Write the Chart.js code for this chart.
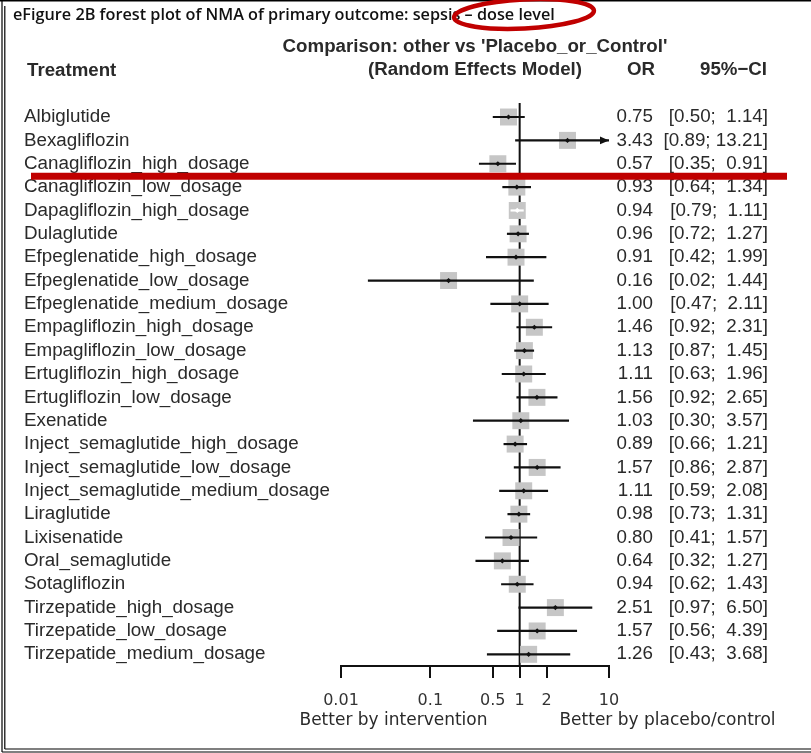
<!DOCTYPE html>
<html>
<head>
<meta charset="utf-8">
<script src="https://cdn.jsdelivr.net/npm/chart.js@4/dist/chart.umd.min.js"></script>
<style>
html,body{margin:0;padding:0;background:#fff;}
#wrap{width:811px;height:753px;position:relative;}
</style>
</head>
<body>
<div id="wrap"><canvas id="c" width="811" height="753"></canvas></div>
<script>
// ---------- DATA ----------
const treatments = [
  'Albiglutide','Bexagliflozin','Canagliflozin_high_dosage','Canagliflozin_low_dosage',
  'Dapagliflozin_high_dosage','Dulaglutide','Efpeglenatide_high_dosage','Efpeglenatide_low_dosage',
  'Efpeglenatide_medium_dosage','Empagliflozin_high_dosage','Empagliflozin_low_dosage',
  'Ertugliflozin_high_dosage','Ertugliflozin_low_dosage','Exenatide',
  'Inject_semaglutide_high_dosage','Inject_semaglutide_low_dosage','Inject_semaglutide_medium_dosage',
  'Liraglutide','Lixisenatide','Oral_semaglutide','Sotagliflozin',
  'Tirzepatide_high_dosage','Tirzepatide_low_dosage','Tirzepatide_medium_dosage'
];
const orValues = [0.75,3.43,0.57,0.93,0.94,0.96,0.91,0.16,1.00,1.46,1.13,1.11,1.56,1.03,0.89,1.57,1.11,0.98,0.80,0.64,0.94,2.51,1.57,1.26];
const ciLower  = [0.50,0.89,0.35,0.64,0.79,0.72,0.42,0.02,0.47,0.92,0.87,0.63,0.92,0.30,0.66,0.86,0.59,0.73,0.41,0.32,0.62,0.97,0.56,0.43];
const ciUpper  = [1.14,13.21,0.91,1.34,1.11,1.27,1.99,1.44,2.11,2.31,1.45,1.96,2.65,3.57,1.21,2.87,2.08,1.31,1.57,1.27,1.43,6.50,4.39,3.68];
const tickValues = [0.01,0.1,0.5,1,2,10];
const tickLabels = ['0.01','0.1','0.5','1','2','10'];
const refValue = 1;
const titleText = 'eFigure 2B forest plot of NMA of primary outcome: sepsis \u2013 dose level';
const headerComparison = "Comparison: other vs 'Placebo_or_Control'";
const headerModel = '(Random Effects Model)';
const headerTreatment = 'Treatment';
const headerOR = 'OR';
const headerCI = '95%\u2212CI';
const leftLabel = 'Better by intervention';
const rightLabel = 'Better by placebo/control';

// ---------- STYLE ----------
const SQ_RADIUS = 12;          // rect point radius -> ~17px square
const TEXT = '#2a2a2a';
const BODY_FONT = '18.8px "Liberation Sans", Arial, sans-serif';
const BOLD_FONT = 'bold 18.7px "Liberation Sans", Arial, sans-serif';
const RED = '#c00000';

const fmt2 = v => v.toFixed(2);

// build datasets from arrays
const squareData = orValues.map((v,i)=>({x:v,y:i}));
const ciData = [];
ciLower.forEach((lo,i)=>{
  ciData.push({x:lo,y:i});
  ciData.push({x:ciUpper[i],y:i});
  ciData.push({x:null,y:null});
});

function isInside(row, xScale){
  const half = SQ_RADIUS*Math.SQRT1_2;
  const c = xScale.getPixelForValue(orValues[row]);
  return xScale.getPixelForValue(ciLower[row]) >= c-half && xScale.getPixelForValue(ciUpper[row]) <= c+half;
}

const textPlugin = {
  id:'forestText',
  beforeDraw(chart){
    const ctx = chart.ctx;
    ctx.save();
    ctx.fillStyle = '#fff';
    ctx.fillRect(0,0,chart.width,chart.height);
    ctx.restore();
  },
  afterDraw(chart){
    const ctx = chart.ctx;
    const xs = chart.scales.x, ys = chart.scales.y;
    ctx.save();
    // frame
    ctx.strokeStyle = '#000';
    ctx.lineWidth = 1.5;
    ctx.beginPath(); ctx.moveTo(0,0.75); ctx.lineTo(811,0.75); ctx.stroke();
    ctx.lineWidth = 1.2;
    ctx.beginPath(); ctx.moveTo(2,0); ctx.lineTo(2,752); ctx.stroke();
    ctx.beginPath(); ctx.moveTo(4.8,6); ctx.lineTo(4.8,749); ctx.stroke();
    ctx.beginPath(); ctx.moveTo(2,752); ctx.lineTo(811,752); ctx.stroke();
    ctx.beginPath(); ctx.moveTo(4.8,749); ctx.lineTo(811,749); ctx.stroke();

    // title (auto-fit width)
    ctx.fillStyle = '#111';
    ctx.textBaseline = 'middle';
    ctx.textAlign = 'left';
    ctx.font = '600 15px "Open Sans", Lato, sans-serif';
    let w = ctx.measureText(titleText).width;
    let fs = 15*542/w;
    ctx.font = '600 '+fs.toFixed(2)+'px "Open Sans", Lato, sans-serif';
    ctx.fillText(titleText, 13, 15);

    // headers
    ctx.fillStyle = TEXT;
    ctx.font = BOLD_FONT;
    ctx.textAlign = 'center';
    const cx = (xs.left + xs.right)/2;
    ctx.fillText(headerComparison, cx, 47);
    ctx.fillText(headerModel, cx, 70);
    ctx.textAlign = 'left';
    ctx.fillText(headerTreatment, 27, 71);
    ctx.textAlign = 'right';
    ctx.fillText(headerOR, 655, 70);
    ctx.fillText(headerCI, 767, 70);

    // rows
    ctx.font = BODY_FONT;
    treatments.forEach((t,i)=>{
      const y = ys.getPixelForValue(i);
      ctx.textAlign = 'left';
      ctx.fillText(t, 24, y);
      ctx.textAlign = 'right';
      ctx.fillText(fmt2(orValues[i]), 653, y);
      const ci = '[' + fmt2(ciLower[i]) + '; ' + fmt2(ciUpper[i]).padStart(5,' ') + ']';
      ctx.fillText(ci, 768, y);
      // arrow where CI exceeds axis
      if (ciUpper[i] > xs.max){
        const xr = xs.right;
        ctx.fillStyle = '#111';
        ctx.beginPath();
        ctx.moveTo(xr, y);
        ctx.lineTo(xr-9, y-3.8);
        ctx.lineTo(xr-9, y+3.8);
        ctx.closePath();
        ctx.fill();
        ctx.fillStyle = TEXT;
      }
    });

    // bottom labels
    ctx.font = '17px "DejaVu Sans", sans-serif';
    ctx.textAlign = 'center';
    ctx.fillText(leftLabel, 393.5, 721);
    ctx.fillText(rightLabel, 667.5, 721);

    // red annotations
    ctx.strokeStyle = RED;
    ctx.lineWidth = 4.5;
    ctx.beginPath();
    ctx.ellipse(524, 14, 70, 14.5, -0.05, 0, Math.PI*2);
    ctx.stroke();
    ctx.lineWidth = 7;
    ctx.beginPath();
    ctx.moveTo(31, 176.3);
    ctx.lineTo(787, 176.3);
    ctx.stroke();
    ctx.restore();
  }
};

new Chart(document.getElementById('c'), {
  type:'scatter',
  data:{
    datasets:[
      { // reference line at OR = 1
        type:'line',
        data:[{x:refValue,y:-0.6},{x:refValue,y:23.5}],
        borderColor:'#111', borderWidth:2, pointRadius:0, order:4, clip:false
      },
      { // squares
        data:squareData,
        pointStyle:'rect', pointRadius:SQ_RADIUS, backgroundColor:'#c6c6c6',
        borderWidth:0, order:3
      },
      { // CI lines
        type:'line',
        data:ciData,
        spanGaps:false,
        borderColor:'#111', borderWidth:2.2, pointRadius:0, order:2,
        segment:{
          borderColor:(c)=>{
            const row = Math.floor(c.p0DataIndex/3);
            const lo = ciLower[row], hi = ciUpper[row], est = orValues[row];
            const ppd = (c.p1.x - c.p0.x)/Math.log10(hi/lo);
            const sq = c.p0.x + Math.log10(est/lo)*ppd;
            const half = SQ_RADIUS*Math.SQRT1_2;
            return (c.p0.x >= sq-half && c.p1.x <= sq+half) ? '#ffffff' : '#111';
          }
        }
      },
      { // centre dots
        data:squareData,
        pointStyle:'rectRot', pointRadius:2.6, borderWidth:0,
        backgroundColor:(c)=> (c.dataIndex!==undefined && c.chart.scales.x && isInside(c.dataIndex, c.chart.scales.x)) ? '#ffffff' : '#111',
        order:1
      }
    ]
  },
  options:{
    responsive:false,
    animation:false,
    devicePixelRatio:1,
    events:[],
    layout:{padding:{left:341,right:202,top:103,bottom:0}},
    plugins:{legend:{display:false},tooltip:{enabled:false}},
    scales:{
      x:{
        type:'logarithmic', min:0.01, max:10, offset:false,
        afterBuildTicks:(s)=>{ s.ticks = tickValues.map(v=>({value:v})); },
        afterFit:(s)=>{ s.height = 87; },
        border:{display:true,color:'#111',width:2},
        grid:{display:true,drawOnChartArea:false,drawTicks:true,tickLength:12,color:'#111',lineWidth:2},
        ticks:{
          autoSkip:false, maxRotation:0, padding:13, color:'#333',
          font:{family:'"DejaVu Sans", sans-serif', size:16},
          callback:(v,i)=> tickLabels[i]
        }
      },
      y:{
        type:'linear', reverse:true, min:-0.6, max:23.5, display:false
      }
    }
  },
  plugins:[textPlugin]
});
</script>
</body>
</html>
